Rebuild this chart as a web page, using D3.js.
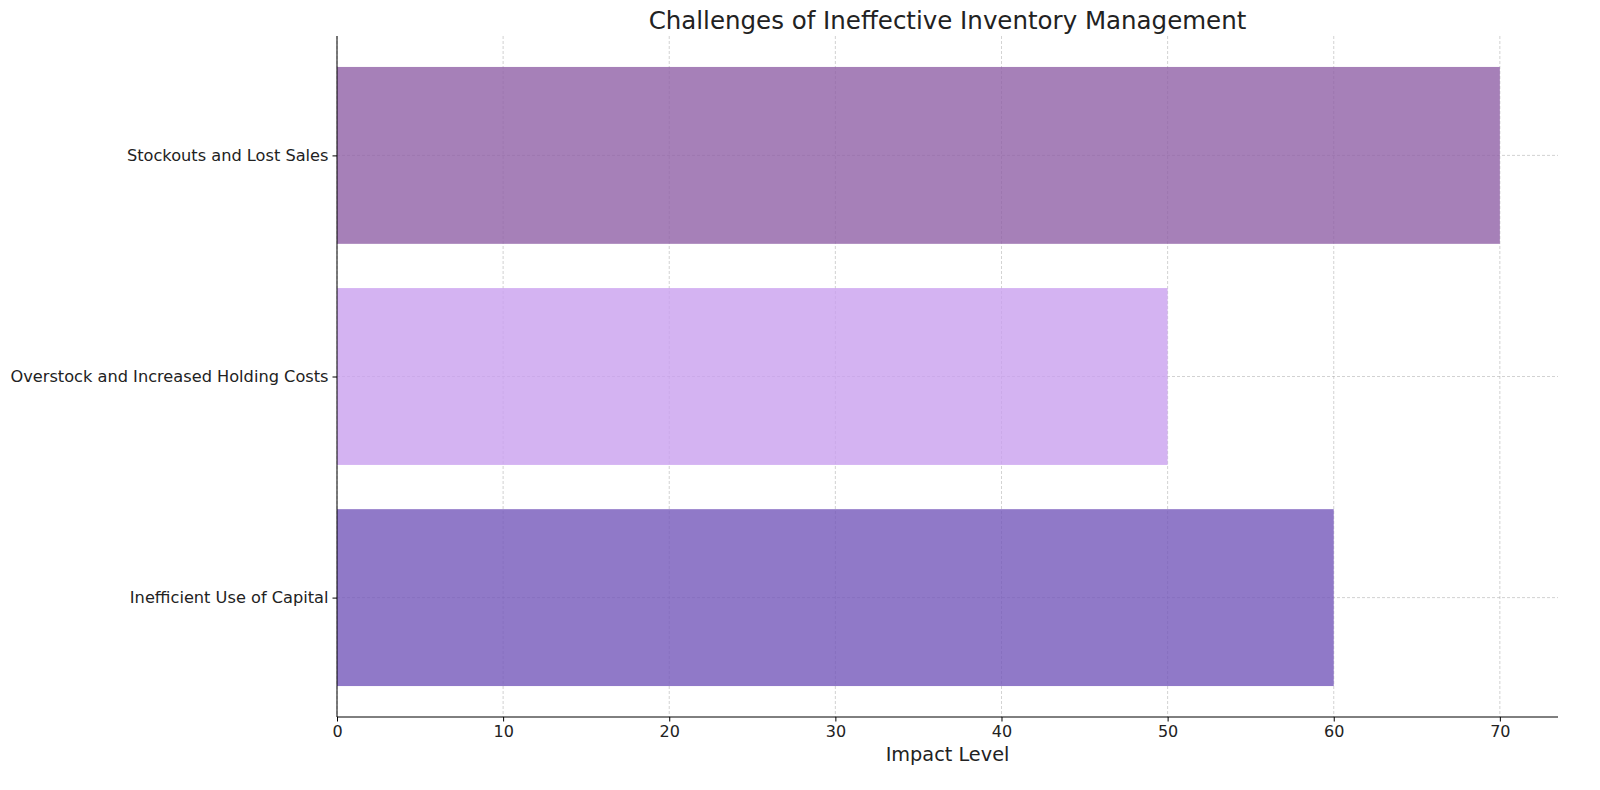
<!DOCTYPE html>
<html><head><meta charset="utf-8">
<script src="https://cdn.jsdelivr.net/npm/d3@7"></script>
<style>body{margin:0;background:#fff;} svg{display:block;font-family:"DejaVu Sans",sans-serif;}</style>
</head><body>
<svg id="c" width="1600" height="790"></svg>
<script>
const categories = ["Inefficient Use of Capital", "Overstock and Increased Holding Costs", "Stockouts and Lost Sales"];
const values = [60, 50, 70];
const colors = ["#7458ba", "#c9a0ef", "#9060a6"];
const xTicks = [0, 10, 20, 30, 40, 50, 60, 70];

const svg = d3.select("#c");
const L = 337, R = 1558, T = 36, B = 717;
const x = d3.scaleLinear().domain([0, 73.5]).range([L, R]);
const y = d3.scaleLinear().domain([-0.54, 2.54]).range([B, T]);

// grid
const g = svg.append("g");
g.selectAll(".vx").data(xTicks).join("line")
  .attr("x1", d => x(d)).attr("x2", d => x(d)).attr("y1", T).attr("y2", B)
  .attr("stroke", "#b0b0b0").attr("stroke-width", 0.8).attr("stroke-dasharray", "3,2").attr("opacity", 0.7);
g.selectAll(".hy").data(categories).join("line")
  .attr("x1", L).attr("x2", R).attr("y1", (d, i) => y(i)).attr("y2", (d, i) => y(i))
  .attr("stroke", "#b0b0b0").attr("stroke-width", 0.8).attr("stroke-dasharray", "3,2").attr("opacity", 0.7);

// bars
svg.append("g").selectAll("rect").data(values).join("rect")
  .attr("x", x(0)).attr("y", (d, i) => y(i + 0.4))
  .attr("width", d => x(d) - x(0)).attr("height", (d, i) => y(i - 0.4) - y(i + 0.4))
  .attr("fill", (d, i) => colors[i]).attr("fill-opacity", 0.8);

// axes
const xAxis = d3.axisBottom(x).tickValues(xTicks).tickSize(4.5).tickPadding(4).tickFormat(d3.format("d"));
const xg = svg.append("g").attr("transform", `translate(0,${B})`).call(xAxis);
xg.select(".domain").remove();
xg.selectAll("text").attr("font-size", 16).attr("fill", "#222").attr("font-family", "DejaVu Sans");
xg.selectAll("line").attr("stroke", "#000");
const yAxis = d3.axisLeft(y).tickValues([0, 1, 2]).tickSize(4.5).tickPadding(4).tickFormat(d => categories[d]);
const yg = svg.append("g").attr("transform", `translate(${L},0)`).call(yAxis);
yg.select(".domain").remove();
yg.selectAll("text").attr("font-size", 16.2).attr("fill", "#222").attr("font-family", "DejaVu Sans");
yg.selectAll("line").attr("stroke", "#000");

// spines
svg.append("line").attr("x1", L).attr("x2", L).attr("y1", T).attr("y2", B).attr("stroke", "#000").attr("stroke-width", 1);
svg.append("line").attr("x1", L).attr("x2", R).attr("y1", B).attr("y2", B).attr("stroke", "#000").attr("stroke-width", 1);

svg.append("text").attr("x", (L + R) / 2).attr("y", 29).attr("text-anchor", "middle")
  .attr("font-size", 24.5).attr("fill", "#222").text("Challenges of Ineffective Inventory Management");
svg.append("text").attr("x", (L + R) / 2).attr("y", 761).attr("text-anchor", "middle")
  .attr("font-size", 19.3).attr("fill", "#222").text("Impact Level");
</script>
</body></html>
